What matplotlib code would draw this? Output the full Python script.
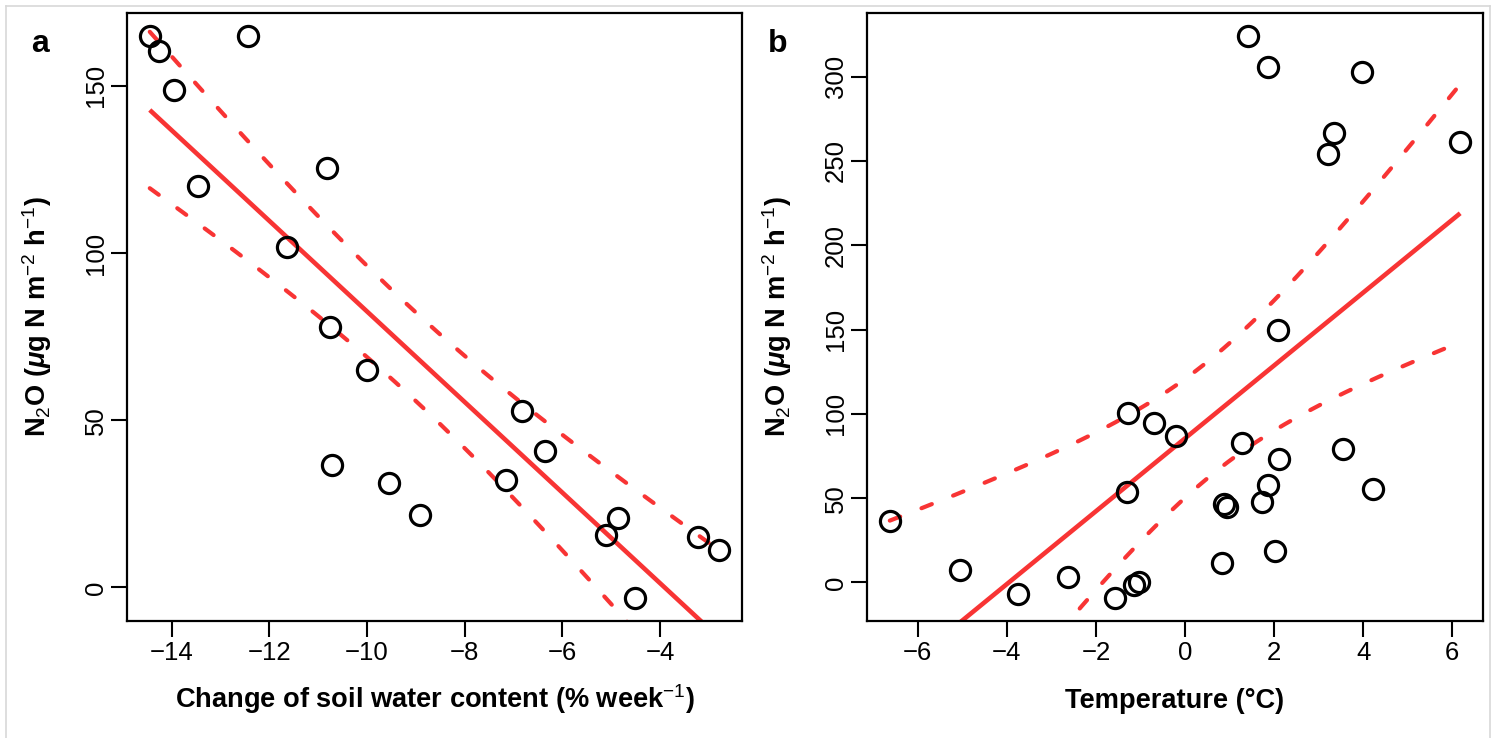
import numpy as np
import matplotlib
matplotlib.use("Agg")
import matplotlib.pyplot as plt
from matplotlib.lines import Line2D

# ---------------- data ----------------
# Panel a: change of soil water content (% week^-1) vs N2O flux
swc_change = [-14.45, -14.27, -13.96, -12.43, -13.47, -10.83, -11.63, -10.75,
              -10.01, -10.71, -9.56, -8.91, -6.82, -6.35, -7.15, -4.86,
              -5.10, -3.22, -2.79, -4.51]
n2o_a = [165.0, 160.5, 148.8, 165.0, 120.0, 125.4, 101.8, 77.8,
         65.0, 36.5, 31.1, 21.6, 52.7, 40.7, 32.0, 20.7,
         15.6, 15.0, 11.1, -3.3]

# Panel b: temperature (°C) vs N2O flux
temperature = [-6.63, -5.06, -3.75, -2.63, -1.57, -1.15, -1.03, -1.28,
               -1.30, -0.70, -0.20, 1.28, 0.83, 0.88, 0.94, 1.73,
               1.87, 2.02, 2.11, 2.09, 1.42, 1.87, 3.55, 4.22,
               3.21, 3.35, 3.98, 6.18]
n2o_b = [36.2, 7.1, -7.1, 3.0, -9.5, -1.8, 0.0, 100.8,
         53.4, 94.3, 86.6, 83.0, 11.3, 46.3, 44.5, 48.0,
         58.1, 18.4, 73.0, 149.5, 324.4, 305.5, 78.9, 55.2,
         254.4, 266.3, 303.0, 261.0]

xticks_a = [-14, -12, -10, -8, -6, -4]
yticks_a = [0, 50, 100, 150]
xticks_b = [-6, -4, -2, 0, 2, 4, 6]
yticks_b = [0, 50, 100, 150, 200, 250, 300]

# t quantiles (0.975) for df = n - 2
T975 = {18: 2.1009, 26: 2.0555}

# ---------------- style ----------------
plt.rcParams['font.family'] = ['Liberation Sans', 'DejaVu Sans']
plt.rcParams['mathtext.fontset'] = 'custom'
plt.rcParams['mathtext.rm'] = 'Liberation Sans'
plt.rcParams['mathtext.it'] = 'Liberation Sans:italic:bold'
plt.rcParams['mathtext.bf'] = 'Liberation Sans:bold'
plt.rcParams['lines.scale_dashes'] = False

RED = '#f83434'
W, H = 1497, 738
fig = plt.figure(figsize=(W / 100, H / 100), dpi=100)


def px_rect(l, r, t, b):
    return [l / W, 1 - b / H, (r - l) / W, (b - t) / H]


def fit_ci(x, y):
    x = np.asarray(x, float)
    y = np.asarray(y, float)
    n = len(x)
    b1, b0 = np.polyfit(x, y, 1)
    resid = y - (b0 + b1 * x)
    s = np.sqrt(np.sum(resid ** 2) / (n - 2))
    xm = x.mean()
    sxx = np.sum((x - xm) ** 2)
    xs = np.linspace(x.min(), x.max(), 300)
    yh = b0 + b1 * xs
    se = s * np.sqrt(1 / n + (xs - xm) ** 2 / sxx)
    t = T975[n - 2]
    return xs, yh, yh - t * se, yh + t * se


def panel(rect, x, y, xticks, yticks, xlabel, ylabel, letter, letter_xy):
    ax = fig.add_axes(rect)
    x = np.asarray(x, float)
    y = np.asarray(y, float)
    xr = x.max() - x.min()
    yr = y.max() - y.min()
    ax.set_xlim(x.min() - 0.04 * xr, x.max() + 0.04 * xr)
    ax.set_ylim(y.min() - 0.04 * yr, y.max() + 0.04 * yr)

    xs, yh, lo, hi = fit_ci(x, y)
    ax.plot(xs, yh, color=RED, lw=3.3, solid_capstyle='butt', zorder=2)
    for band in (lo, hi):
        ax.plot(xs, band, color=RED, lw=3.0, dash_capstyle='round',
                linestyle=(0, (8.0, 16.5)), zorder=2)
    ax.plot(x, y, linestyle='none', marker='o', markersize=14.5,
            markerfacecolor='none', markeredgecolor='black',
            markeredgewidth=2.3, zorder=3)

    for sp in ax.spines.values():
        sp.set_linewidth(1.6)
    ax.set_xticks(xticks)
    ax.set_yticks(yticks)
    ax.tick_params(axis='both', length=11.5, width=1.5, labelsize=18.5,
                   direction='out')
    ax.tick_params(axis='x', pad=3)
    ax.tick_params(axis='y', pad=2)
    for lab in ax.get_yticklabels():
        lab.set_rotation(90)
        lab.set_va('center')
    ax.set_xlabel(xlabel, fontsize=19.6, fontweight='bold')
    ax.xaxis.label.set_va('baseline')
    ax.xaxis.set_label_coords(0.5, -(708 - 621) / 608)
    ax.set_ylabel(ylabel, fontsize=19.6, fontweight='bold')
    ax.yaxis.set_label_coords(-0.119, 0.5)
    fig.text(letter_xy[0] / W, 1 - letter_xy[1] / H, letter, fontsize=23,
             fontweight='bold', ha='center', va='center')
    return ax


ylab = r'N$_{2}$O ($\mu$g N m$^{-2}$ h$^{-1}$)'
panel(px_rect(127, 742, 13, 621), swc_change, n2o_a, xticks_a, yticks_a,
      r'Change of soil water content (% week$^{-1}$)', ylab, 'a', (40, 44))
panel(px_rect(867, 1483, 13, 621), temperature, n2o_b, xticks_b, yticks_b,
      'Temperature (°C)', ylab, 'b', (778, 44))

# light frame of the screenshot
grey = '#d8d8d8'
fig.add_artist(Line2D([6 / W, 1490 / W], [1 - 6 / H, 1 - 6 / H], color=grey, lw=1.2))
fig.add_artist(Line2D([6 / W, 6 / W], [0, 1 - 6 / H], color=grey, lw=1.2))
fig.add_artist(Line2D([1490 / W, 1490 / W], [0, 1 - 6 / H], color=grey, lw=1.2))

fig.savefig('out.png', dpi=100)
